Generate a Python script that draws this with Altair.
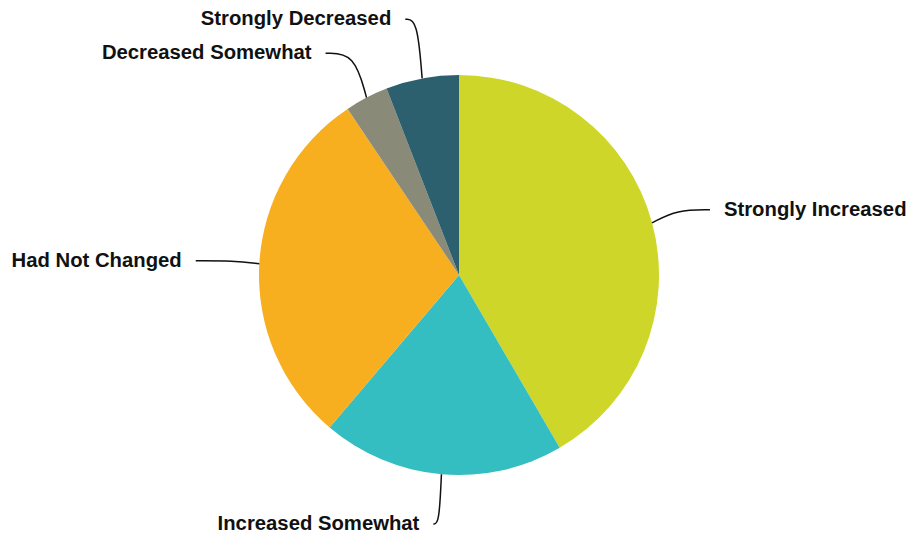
import math
import altair as alt
import pandas as pd

categories = ["Strongly Increased", "Increased Somewhat", "Had Not Changed",
              "Decreased Somewhat", "Strongly Decreased"]
values = [41.6, 19.6, 29.4, 3.5, 5.9]
colors = ["#cfd62a", "#35bec1", "#f7ae1f", "#8a8a78", "#2d606e"]

W, H = 904, 525
CX, CY = 451, 267
R = 200
GAP = 34

df = pd.DataFrame({"cat": categories, "val": values, "order": range(len(values))})

# leader-line / label layout computed from the pie angles
total = sum(values)
items = []
cum = 0.0
for c, v in zip(categories, values):
    a = 2 * math.pi * (cum + v / 2) / total
    cum += v
    s, co = math.sin(a), -math.cos(a)
    items.append({"cat": c, "s": s, "c": co, "ly": CY + 250 * co})

# avoid overlapping labels on each side (push upper ones up)
for side in (True, False):
    grp = sorted([it for it in items if (it["s"] > 0) == side], key=lambda d: d["ly"])
    for i in range(len(grp) - 2, -1, -1):
        if grp[i]["ly"] > grp[i + 1]["ly"] - GAP:
            grp[i]["ly"] = grp[i + 1]["ly"] - GAP

rows_line, rows_lab = [], []
for it in items:
    s, co, ly = it["s"], it["c"], it["ly"]
    sign = 1 if s > 0 else -1
    x0, y0 = CX + R * s, CY + R * co
    extra = 30 * abs(s * co) if sign < 0 else -2
    lx = CX + 262 * s + sign * extra
    px, py = CX + (R + 26) * s, ly
    for k, (xx, yy) in enumerate([(x0, y0), (px, py), (lx, ly)]):
        rows_line.append({"cat": it["cat"], "k": k, "x": xx, "y": yy})
    rows_lab.append({"cat": it["cat"], "x": lx + sign * 14, "y": ly,
                     "align": "left" if sign > 0 else "right"})

lines = pd.DataFrame(rows_line)
labs = pd.DataFrame(rows_lab)

pie = alt.Chart(df).mark_arc(outerRadius=R).encode(
    theta=alt.Theta("val:Q", stack=True),
    order=alt.Order("order:Q"),
    color=alt.Color("cat:N", scale=alt.Scale(domain=categories, range=colors), legend=None),
    x=alt.value(CX), y=alt.value(CY),
)

conn = alt.Chart(lines).mark_line(color="#111111", strokeWidth=1.5, interpolate="basis").encode(
    x=alt.X("x:Q", scale=None), y=alt.Y("y:Q", scale=None),
    detail="cat:N", order="k:Q",
)

def text_layer(align):
    return alt.Chart(labs[labs["align"] == align]).mark_text(
        align=align, baseline="middle", font="Liberation Sans", fontWeight="bold",
        fontSize=20.3, color="#111111").encode(
        x=alt.X("x:Q", scale=None), y=alt.Y("y:Q", scale=None), text="cat:N")

chart = alt.layer(pie, conn, text_layer("left"), text_layer("right")).properties(
    width=W, height=H, padding=0, autosize=alt.AutoSizeParams(type="none")
).configure_view(stroke=None)

chart.save("out.html", embed_options={"renderer": "svg", "actions": False})
